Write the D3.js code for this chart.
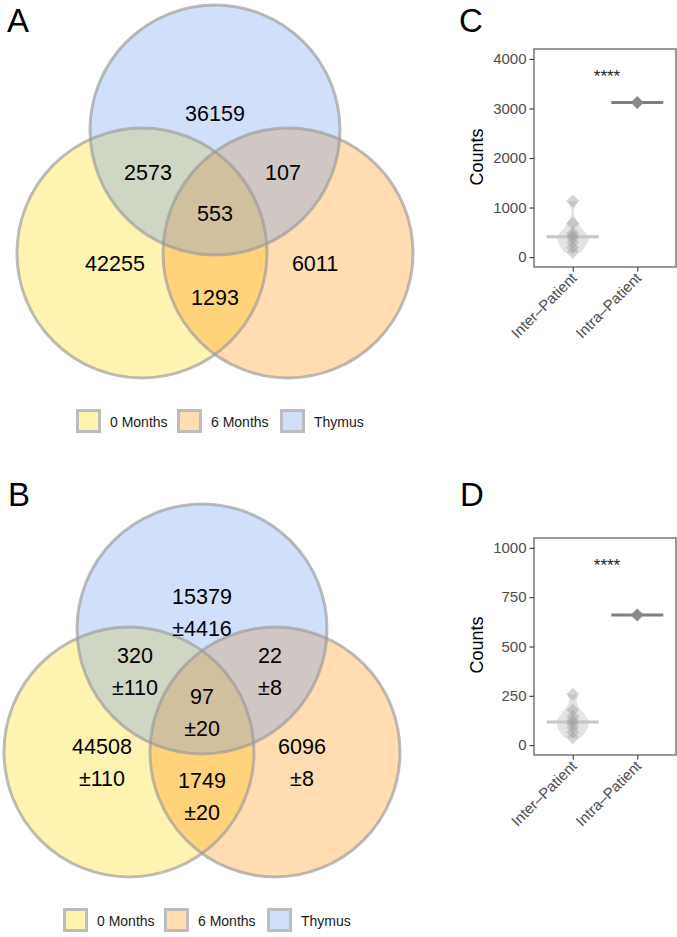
<!DOCTYPE html>
<html><head><meta charset="utf-8">
<script src="https://cdn.jsdelivr.net/npm/d3@7"></script>
<style>
body{margin:0;background:#fff}
svg{display:block}
text{font-family:"Liberation Sans",Arial,Helvetica,sans-serif}
</style>
</head><body>
<svg id="chart" width="677" height="937"></svg>
<script>
// ---------------- DATA ----------------
const setNames = ["0 Months", "6 Months", "Thymus"];
const setColors = ["#FFD700", "#FF8C00", "#6495ED"];
// regions: 0M only, 6M only, Thymus only, 0M&Thymus, 6M&Thymus, 0M&6M, all three
const regionKeys = ["0M", "6M", "T", "0M&T", "6M&T", "0M&6M", "all"];
const vennA = [42255, 6011, 36159, 2573, 107, 1293, 553];
const vennB = [44508, 6096, 15379, 320, 22, 1749, 97];
const vennBsd = [110, 8, 4416, 110, 8, 20, 20];

const groups = ["Inter–Patient", "Intra–Patient"];
const countsC_inter = [1130, 680, 480, 430, 390, 300, 200, 100];
const countsC_intra = [3120];
const countsD_inter = [258, 178, 145, 125, 110, 90, 65, 38];
const countsD_intra = [660];
const yTicksC = [0, 1000, 2000, 3000, 4000];
const yTicksD = [0, 250, 500, 750, 1000];
const signifLabel = "****";

// ---------------- LAYOUT ----------------
const svg = d3.select("#chart");
const R = 125, DX = 73, DY = 123;
// label offsets relative to the top circle centre
const labelOffset = {
  "0M": [-100, 133], "6M": [100, 133], "T": [0, -17],
  "0M&T": [-67, 42], "6M&T": [68, 42], "0M&6M": [0, 167], "all": [0, 83]
};

function venn(cx, cy, values, sds) {
  const g = svg.append("g");
  const centers = [[cx - DX, cy + DY], [cx + DX, cy + DY], [cx, cy]];
  g.selectAll("circle.fill").data(setNames).join("circle")
    .attr("class", "fill")
    .attr("cx", (d, i) => centers[i][0]).attr("cy", (d, i) => centers[i][1])
    .attr("r", R).attr("fill", (d, i) => setColors[i]).attr("fill-opacity", 0.3);
  g.selectAll("circle.edge").data(setNames).join("circle")
    .attr("class", "edge")
    .attr("cx", (d, i) => centers[i][0]).attr("cy", (d, i) => centers[i][1])
    .attr("r", R).attr("fill", "none").attr("stroke", "#9a9a9a")
    .attr("stroke-opacity", 0.65).attr("stroke-width", 3);
  const fmt = d3.format("d");
  regionKeys.forEach((k, i) => {
    const [ox, oy] = labelOffset[k];
    const t = g.append("text").attr("text-anchor", "middle")
      .attr("font-size", 21.5).attr("fill", "#000");
    if (sds) {
      t.append("tspan").attr("x", cx + ox).attr("y", cy + oy - 16 + 7.5).text(fmt(values[i]));
      t.append("tspan").attr("x", cx + ox).attr("y", cy + oy + 16 + 7.5).text("±" + fmt(sds[i]));
    } else {
      t.attr("x", cx + ox).attr("y", cy + oy + 7.5).text(fmt(values[i]));
    }
  });
  // legend
  const lg = g.append("g").attr("transform", `translate(${cx - 139},${cy + 279})`);
  const xs = [0, 101, 204];
  setNames.forEach((n, i) => {
    lg.append("rect").attr("x", xs[i] + 1.5).attr("y", 1.5).attr("width", 22).attr("height", 21)
      .attr("fill", "#fff");
    lg.append("rect").attr("x", xs[i] + 1.5).attr("y", 1.5).attr("width", 22).attr("height", 21)
      .attr("fill", setColors[i]).attr("fill-opacity", 0.3)
      .attr("stroke", "#bdbdbd").attr("stroke-width", 3);
    lg.append("text").attr("x", xs[i] + 34).attr("y", 17.5).attr("font-size", 14)
      .attr("fill", "#1a1a1a").text(n);
  });
}

venn(215, 130, vennA, null);
venn(202, 629, vennB, vennBsd);

// panel letters
[["A", 7, 32], ["B", 8, 506], ["C", 459, 32], ["D", 460, 506]].forEach(([t, x, y]) => {
  svg.append("text").attr("x", x).attr("y", y).attr("font-size", 33).attr("fill", "#000").text(t);
});

function kde(values, grid) {
  const n = values.length;
  const sd = d3.deviation(values);
  const s = values.slice().sort(d3.ascending);
  const iqr = d3.quantile(s, 0.75) - d3.quantile(s, 0.25);
  const bw = 0.9 * Math.min(sd, iqr / 1.34) * Math.pow(n, -0.2);
  return grid.map(v => [v, d3.mean(values, x => Math.exp(-0.5 * ((v - x) / bw) ** 2))]);
}

function diamond(x, y, h) {
  const p = d3.path();
  p.moveTo(x, y - h); p.lineTo(x + h, y); p.lineTo(x, y + h); p.lineTo(x - h, y); p.closePath();
  return p.toString();
}

function dotPanel(top, bottom, inter, intra, ticks, labelCenterY) {
  const left = 534, right = 676;
  const tmax = d3.max(ticks);
  const pad = tmax * 0.05;
  const y = d3.scaleLinear().domain([-pad, tmax + pad]).range([bottom, top]);
  const x = d3.scaleLinear().domain([0.4, 2.6]).range([left, right]);
  const g = svg.append("g");

  // y axis
  const ya = g.append("g").attr("transform", `translate(${left},0)`)
    .call(d3.axisLeft(y).tickValues(ticks).tickSize(4.5).tickPadding(3).tickFormat(d3.format("d")));
  ya.select(".domain").remove();
  ya.selectAll(".tick line").attr("stroke", "#333").attr("stroke-width", 1.1);
  ya.selectAll(".tick text").attr("font-size", 15).attr("fill", "#4d4d4d")
    .attr("font-family", "Liberation Sans, Arial, sans-serif");

  // x axis
  const xa = g.append("g").attr("transform", `translate(0,${bottom})`)
    .call(d3.axisBottom(x).tickValues([1, 2]).tickSize(4.5).tickFormat(""));
  xa.select(".domain").remove();
  xa.selectAll(".tick line").attr("stroke", "#333").attr("stroke-width", 1.1);
  groups.forEach((gname, i) => {
    g.append("text").attr("transform", `translate(${x(i + 1) + 5},${bottom + 12}) rotate(-45)`)
      .attr("text-anchor", "end").attr("font-size", 15).attr("fill", "#4d4d4d").text(gname);
  });

  // violin for inter
  const lo = d3.min(inter), hi = d3.max(inter);
  const grid = d3.range(0, 61).map(i => lo + (hi - lo) * i / 60);
  const dens = kde(inter, grid);
  const dmax = d3.max(dens, d => d[1]);
  const w = d3.scaleLinear().domain([0, dmax]).range([0, 16]);
  const area = d3.area().y(d => y(d[0]))
    .x0(d => x(1) - w(d[1])).x1(d => x(1) + w(d[1])).curve(d3.curveBasis);
  g.append("path").attr("d", area(dens)).attr("fill", "#e3e3e3");

  // median lines
  const med1 = d3.median(inter), med2 = d3.median(intra);
  g.append("line").attr("x1", x(1) - 26).attr("x2", x(1) + 26).attr("y1", y(med1)).attr("y2", y(med1))
    .attr("stroke", "#c6c6c6").attr("stroke-width", 3);
  g.selectAll("path.p1").data(inter).join("path").attr("class", "p1")
    .attr("d", d => diamond(x(1), y(d), 6.5)).attr("fill", "#a0a0a0").attr("fill-opacity", 0.45);
  g.append("line").attr("x1", x(2) - 26).attr("x2", x(2) + 26).attr("y1", y(med2)).attr("y2", y(med2))
    .attr("stroke", "#7f7f7f").attr("stroke-width", 3);
  g.selectAll("path.p2").data(intra).join("path").attr("class", "p2")
    .attr("d", d => diamond(x(2), y(d), 6.5)).attr("fill", "#8a8a8a");

  // significance
  g.append("text").attr("x", x(1.5) + 2).attr("y", y(tmax * 0.935) + 10).attr("text-anchor", "middle")
    .attr("font-size", 17).attr("fill", "#222").text(signifLabel);

  // border
  g.append("rect").attr("x", left).attr("y", top).attr("width", right - left).attr("height", bottom - top)
    .attr("fill", "none").attr("stroke", "#555").attr("stroke-width", 1.2);

  // y label
  g.append("text").attr("transform", `translate(483,${labelCenterY}) rotate(-90)`)
    .attr("text-anchor", "middle").attr("font-size", 18).attr("fill", "#000").text("Counts");
}

dotPanel(49, 267, countsC_inter, countsC_intra, yTicksC, 157);
dotPanel(538, 755, countsD_inter, countsD_intra, yTicksD, 645);
</script>
</body></html>
